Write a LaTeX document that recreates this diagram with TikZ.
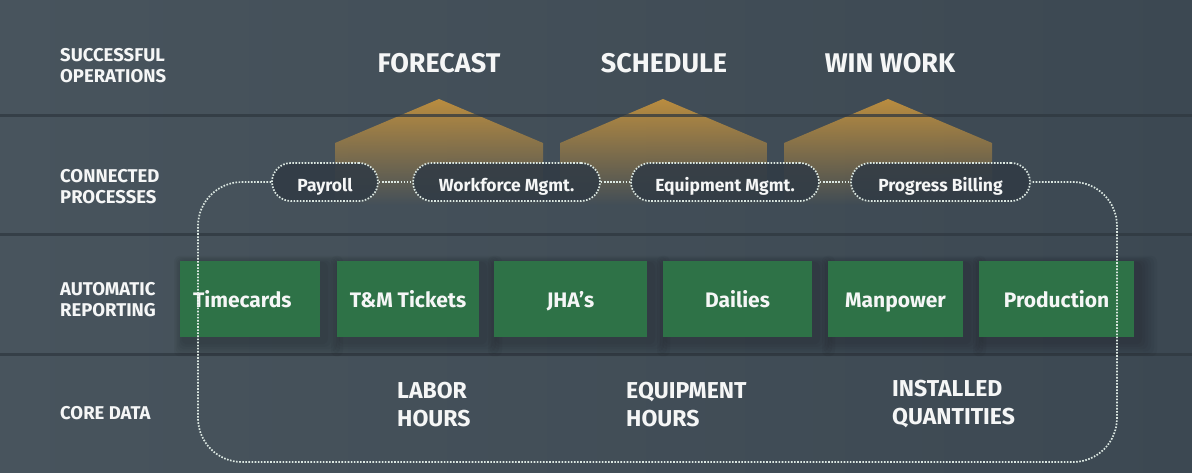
\documentclass[tikz,border=0pt]{standalone}
\usepackage{fontspec}
\setmainfont{Fira Sans}
\usetikzlibrary{fadings}
\definecolor{bgL}{HTML}{48545D}
\definecolor{bgR}{HTML}{3C4852}
\definecolor{sepc}{HTML}{2F3840}
\definecolor{goldc}{HTML}{BA8D40}
\definecolor{boxg}{HTML}{2E7247}
\definecolor{pillc}{HTML}{313B45}
\definecolor{dotc}{HTML}{DCE8E2}
\definecolor{txt}{HTML}{F5F6F6}
\tikzfading[name=fadedown, top color=transparent!0, middle color=transparent!35, bottom color=transparent!100]
\tikzset{
 rowlabel/.style={anchor=west, align=left, text=txt, font=\fontsize{18.5}{21}\selectfont\bfseries, inner sep=0pt},
 heading/.style={text=txt, font=\fontsize{27}{30}\selectfont\bfseries, inner sep=0pt},
 pill/.style={draw=dotc, line width=1.7pt, dash pattern=on 1.6pt off 1.5pt, fill=pillc, fill opacity=0.88, text opacity=1, rounded corners=19pt, minimum height=38pt, inner sep=0pt, text=txt, font=\fontsize{17.5}{20}\selectfont\bfseries, text height=18pt, text depth=0pt},
 conn/.style={draw=dotc, line width=1.7pt, dash pattern=on 1.6pt off 1.5pt},
 gbox/.style={fill=boxg, minimum height=76pt, inner sep=0pt, text=txt, font=\fontsize{21}{24}\selectfont\bfseries, text height=16pt, text depth=0pt},
 core/.style={anchor=west, align=left, text=txt, font=\fontsize{23}{28}\selectfont\bfseries, inner sep=0pt},
 pent/.style={fill=goldc, path fading=fadedown},
 sepline/.style={fill=sepc, fill opacity=0.75},
 shad/.style={fill=black, fill opacity=0.035, rounded corners=6pt},
}
\begin{document}
\begin{tikzpicture}[x=1pt,y=-1pt]
\useasboundingbox (0,0) rectangle (1192,472);
% background
\shade[left color=bgL, right color=bgR] (0,0) rectangle (1192,472);
% pentagons
\fill[pent] (335,205) -- (335,143) -- (439,99) -- (543,143) -- (543,205) -- cycle;
\fill[pent] (560,205) -- (560,143) -- (663,99) -- (767,143) -- (767,205) -- cycle;
\fill[pent] (784,205) -- (784,143) -- (888,99) -- (992,143) -- (992,205) -- cycle;
% row separators
\fill[sepline] (0,114) rectangle (1192,117);
\fill[sepline] (0,233) rectangle (1192,236);
\fill[sepline] (0,353) rectangle (1192,356);
% shadows of the report boxes
\foreach \xa/\xb in {180/320,337/479,494/647,663/812,828/963,979/1134}{
  \foreach \s in {3,6,...,18}{
    \fill[shad] (\xa+3-\s*0.5, 263-\s*0.4) rectangle (\xb+5+\s, 342+\s*0.8);
  }
}
% report boxes
\node[gbox, minimum width=140pt, text width=114pt, align=left] (tc) at (250,299) {Timecards};
\node[gbox, minimum width=142pt] (tm) at (408,299) {T\&M Tickets};
\node[gbox, minimum width=153pt] (jha) at (570.5,299) {JHA’s};
\node[gbox, minimum width=149pt] (dai) at (737.5,299) {Dailies};
\node[gbox, minimum width=135pt] (man) at (895.5,299) {Manpower};
\node[gbox, minimum width=155pt] (pro) at (1056.5,299) {Production};
% process pills
\node[pill, minimum width=106pt] (pay) at (325,182) {Payroll};
\node[pill, minimum width=187pt] (wf) at (506.5,182) {Workforce Mgmt.};
\node[pill, minimum width=188pt] (eq) at (725,182) {Equipment Mgmt.};
\node[pill, minimum width=179pt] (pb) at (940.5,182) {Progress Billing};
\draw[conn] (pay.east) -- (wf.west);
\draw[conn] (wf.east) -- (eq.west);
\draw[conn] (eq.east) -- (pb.west);
\coordinate (ctl) at (198,182);
\coordinate (cbl) at (198,462);
\coordinate (cbr) at (1117,462);
\coordinate (ctr) at (1117,182);
\draw[conn, rounded corners=44pt] (pay.west) -- (ctl) -- (cbl) -- (cbr) -- (ctr) -- (pb.east);
% row labels
\node[rowlabel] (l1) at (60,66) {SUCCESSFUL\\OPERATIONS};
\node[rowlabel] (l2) at (60,187) {CONNECTED\\PROCESSES};
\node[rowlabel] (l3) at (60,300) {AUTOMATIC\\REPORTING};
\node[rowlabel] (l4) at (60,413) {CORE DATA};
% headings
\node[heading] (h1) at (439,63) {FORECAST};
\node[heading] (h2) at (664,63) {SCHEDULE};
\node[heading] (h3) at (890,63) {WIN WORK};
% core data
\node[core] (c1) at (397,405) {LABOR\\HOURS};
\node[core] (c2) at (626,405) {EQUIPMENT\\HOURS};
\node[core] (c3) at (892,404) {INSTALLED\\QUANTITIES};
\end{tikzpicture}
\end{document}
